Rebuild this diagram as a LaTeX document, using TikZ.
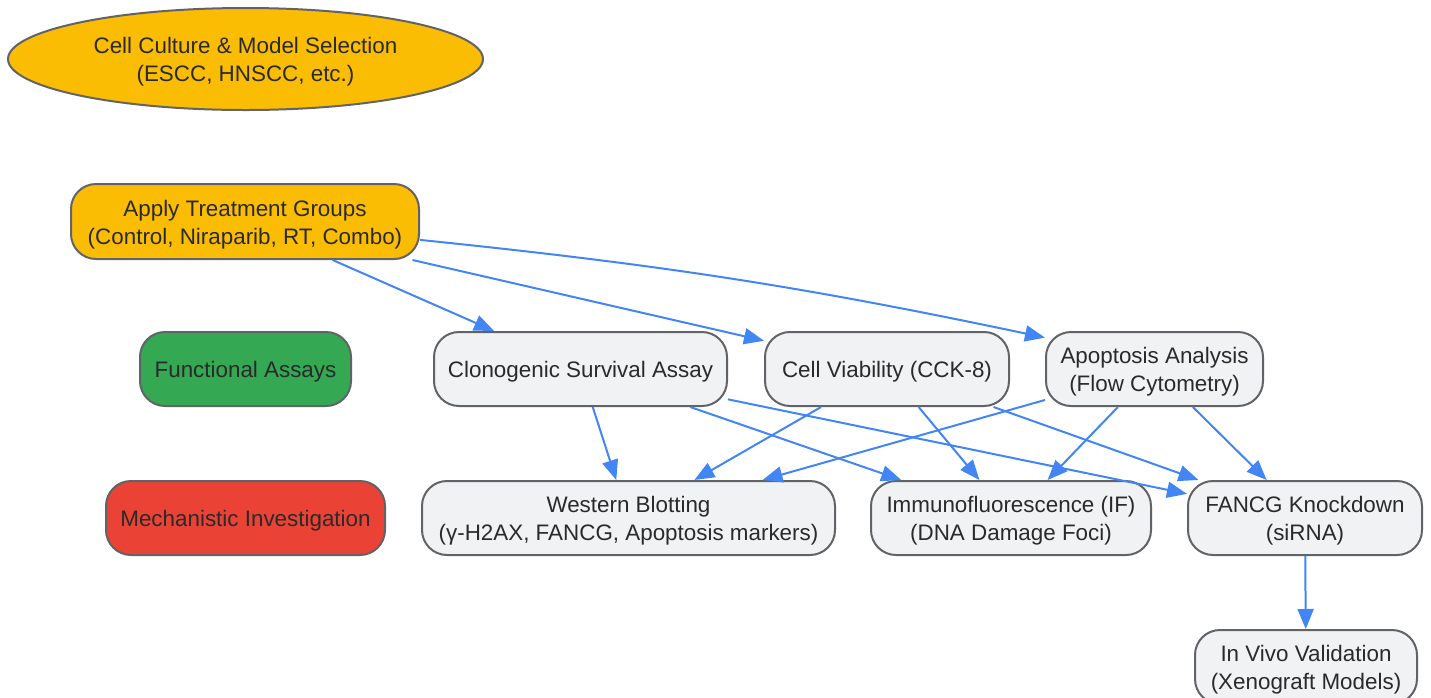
\documentclass[tikz,border=0pt]{standalone}
\usepackage{fontspec}
\setmainfont{Liberation Sans}
\usetikzlibrary{shapes.geometric,arrows.meta}
\definecolor{gyellow}{HTML}{FBBC04}
\definecolor{ggreen}{HTML}{34A853}
\definecolor{gred}{HTML}{EA4335}
\definecolor{ggray}{HTML}{F1F2F4}
\definecolor{gline}{HTML}{616366}
\definecolor{gblue}{HTML}{4285F4}
\definecolor{gtext}{HTML}{2A2A2A}
\newcommand{\tx}[1]{\raisebox{-1.5pt}[\height][\depth]{\begin{tabular}{@{}c@{}}#1\end{tabular}}}
\tikzset{
  base/.style={draw=gline, line width=1pt, text=gtext, align=center, inner sep=0pt,
    font=\fontsize{11.2pt}{14pt}\selectfont},
  boxnode/.style={base, rectangle, rounded corners=12.5pt, minimum height=37pt},
  graybox/.style={boxnode, fill=ggray},
  flow/.style={draw=gblue, line width=1pt, -{Triangle[length=10pt,width=8pt]}}
}
\begin{document}
\begin{tikzpicture}[x=0.5pt, y=-0.5pt]
\useasboundingbox (0,0) rectangle (1431,697);
\node[base, ellipse, fill=gyellow, minimum width=237.5pt, minimum height=51pt] (cult) at (245.5,59) {\tx{Cell Culture \& Model Selection\\(ESCC, HNSCC, etc.)}};
\node[boxnode, fill=gyellow, minimum width=174pt, minimum height=37.5pt] (apply) at (245,221.5) {\tx{Apply Treatment Groups\\(Control, Niraparib, RT, Combo)}};
\node[boxnode, fill=ggreen, minimum width=105.5pt] (func) at (245.5,369) {\tx{Functional Assays}};
\node[graybox, minimum width=146.5pt] (clon) at (580.5,369) {\tx{Clonogenic Survival Assay}};
\node[graybox, minimum width=122pt] (via) at (887,369) {\tx{Cell Viability (CCK-8)}};
\node[graybox, minimum width=108.5pt] (apop) at (1154.5,369) {\tx{Apoptosis Analysis\\(Flow Cytometry)}};
\node[boxnode, fill=gred, minimum width=139.5pt] (mech) at (245.5,518) {\tx{Mechanistic Investigation}};
\node[graybox, minimum width=206.5pt] (west) at (628.5,518) {\tx{Western Blotting\\(γ-H2AX, FANCG, Apoptosis markers)}};
\node[graybox, minimum width=140pt] (if) at (1011,518) {\tx{Immunofluorescence (IF)\\(DNA Damage Foci)}};
\node[graybox, minimum width=117pt] (fancg) at (1305,518) {\tx{FANCG Knockdown\\(siRNA)}};
\node[graybox, minimum width=111pt] (vivo) at (1306,667) {\tx{In Vivo Validation\\(Xenograft Models)}};

\draw[flow] (apply) -- (clon);
\draw[flow] (apply) -- (via);
\draw[flow] (apply.-6) to[bend left=3] (apop.164);
\draw[flow] (clon) -- (west);
\draw[flow] (clon) -- (if);
\draw[flow] (clon) -- (fancg);
\draw[flow] (via) -- (west);
\draw[flow] (via) -- (if);
\draw[flow] (via) -- (fancg);
\draw[flow] (apop) -- (west);
\draw[flow] (apop) -- (if);
\draw[flow] (apop) -- (fancg);
\draw[flow] (fancg) -- (vivo);
\end{tikzpicture}
\end{document}
